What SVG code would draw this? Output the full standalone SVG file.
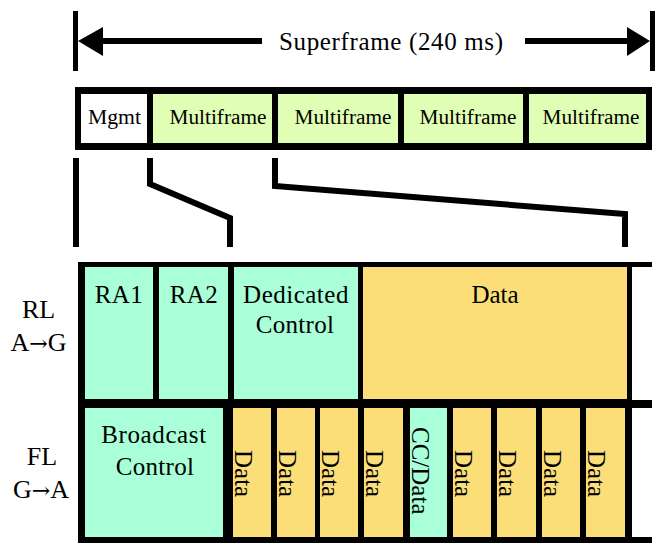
<svg xmlns="http://www.w3.org/2000/svg" width="655" height="544" viewBox="0 0 655 544">
  <style>
    text { font-family: "Liberation Serif", "Times New Roman", serif; fill: #000; }
    .lbl { font-size: 26px; text-anchor: middle; }
    .arr { font-family: "DejaVu Serif", serif; font-size: 22px; }
    .cell { font-size: 25px; text-anchor: middle; }
    .mf { font-size: 20px; text-anchor: middle; }
    .vt { font-size: 25px; }
    .teal { fill: #A8FFD8; }
    .yel { fill: #FBDE78; }
    .grn { fill: #E1FFB4; }
    .wht { fill: #FFFFFF; }
    .blk { fill: #000000; }
    .ln { fill: none; stroke: #000; stroke-width: 6; stroke-linejoin: miter; }
  </style>

  <!-- Superframe dimension -->
  <g id="superframe-dimension">
    <rect class="blk" x="73" y="11" width="5" height="60"/>
    <rect class="blk" x="650" y="11" width="5" height="60"/>
    <line x1="100" y1="41" x2="262" y2="41" stroke="#000" stroke-width="6"/>
    <line x1="525" y1="41" x2="630" y2="41" stroke="#000" stroke-width="6"/>
    <polygon class="blk" points="78,41 103,27 103,56"/>
    <polygon class="blk" points="650,41 627,27 627,56"/>
    <text x="391" y="50" font-size="25" text-anchor="middle" textLength="224" lengthAdjust="spacing">Superframe (240 ms)</text>
  </g>

  <!-- Frame row -->
  <g id="frame-row">
    <rect class="blk" x="75" y="87" width="577" height="63"/>
  </g>
  <g id="mgmt">
    <rect class="wht" x="81" y="94" width="66" height="49"/>
    <text x="114.5" y="124" font-size="21" text-anchor="middle" textLength="53" lengthAdjust="spacingAndGlyphs">Mgmt</text>
  </g>
  <g id="multiframe-1">
    <rect class="grn" x="153" y="94" width="119" height="49"/>
    <text class="mf" x="218" y="124" textLength="97" lengthAdjust="spacingAndGlyphs">Multiframe</text>
  </g>
  <g id="multiframe-2">
    <rect class="grn" x="278" y="94" width="120" height="49"/>
    <text class="mf" x="343" y="124" textLength="97" lengthAdjust="spacingAndGlyphs">Multiframe</text>
  </g>
  <g id="multiframe-3">
    <rect class="grn" x="404" y="94" width="119" height="49"/>
    <text class="mf" x="468" y="124" textLength="97" lengthAdjust="spacingAndGlyphs">Multiframe</text>
  </g>
  <g id="multiframe-4">
    <rect class="grn" x="529" y="94" width="117" height="49"/>
    <text class="mf" x="591" y="124" textLength="97" lengthAdjust="spacingAndGlyphs">Multiframe</text>
  </g>

  <!-- Expansion connectors -->
  <g id="connectors">
    <path class="ln" d="M76,158 V247"/>
    <path class="ln" d="M150,158 V184 L230,218 V247"/>
    <path class="ln" d="M275,158 V186 L625,214 V247"/>
  </g>

  <!-- Link table background -->
  <g id="link-grid">
    <rect class="blk" x="78" y="262" width="554" height="281"/>
    <rect class="blk" x="632" y="262" width="20" height="5"/>
    <rect class="blk" x="632" y="400" width="20" height="8"/>
    <rect class="blk" x="632" y="537" width="20" height="6"/>
  </g>

  <!-- Row labels -->
  <g id="label-rl">
    <text class="lbl" x="38.5" y="318">RL</text>
    <text class="lbl" x="38.5" y="351">A<tspan class="arr">→</tspan>G</text>
  </g>
  <g id="label-fl">
    <text class="lbl" x="42" y="465">FL</text>
    <text class="lbl" x="41" y="498">G<tspan class="arr">→</tspan>A</text>
  </g>

  <!-- RL row -->
  <g id="rl-ra1">
    <rect class="teal" x="85" y="267" width="68" height="132"/>
    <text class="cell" x="119" y="303" letter-spacing="0.5">RA1</text>
  </g>
  <g id="rl-ra2">
    <rect class="teal" x="159" y="267" width="69" height="132"/>
    <text class="cell" x="194" y="303" letter-spacing="0.5">RA2</text>
  </g>
  <g id="rl-dedicated-control">
    <rect class="teal" x="234" y="267" width="124" height="132"/>
    <text class="cell" x="296" y="303" letter-spacing="0.5">Dedicated</text>
    <text class="cell" x="295" y="333" letter-spacing="0.3">Control</text>
  </g>
  <g id="rl-data">
    <rect class="yel" x="363" y="267" width="264" height="132"/>
    <text class="cell" x="495" y="303">Data</text>
  </g>

  <!-- FL row -->
  <g id="fl-broadcast-control">
    <rect class="teal" x="85" y="408" width="138" height="129"/>
    <text class="cell" x="154" y="443" letter-spacing="0.6">Broadcast</text>
    <text class="cell" x="155" y="475" letter-spacing="0.3">Control</text>
  </g>
  <g id="fl-data-1">
    <rect class="yel" x="233" y="408" width="38" height="129"/>
    <text class="vt" transform="translate(235,450) rotate(90)">Data</text>
  </g>
  <g id="fl-data-2">
    <rect class="yel" x="277" y="408" width="38" height="129"/>
    <text class="vt" transform="translate(279,450) rotate(90)">Data</text>
  </g>
  <g id="fl-data-3">
    <rect class="yel" x="320" y="408" width="38" height="129"/>
    <text class="vt" transform="translate(322,450) rotate(90)">Data</text>
  </g>
  <g id="fl-data-4">
    <rect class="yel" x="364" y="408" width="39" height="129"/>
    <text class="vt" transform="translate(366,450) rotate(90)">Data</text>
  </g>
  <g id="fl-cc-data">
    <rect class="teal" x="410" y="408" width="37" height="129"/>
    <text class="vt" transform="translate(412,427) rotate(90)">CC/Data</text>
  </g>
  <g id="fl-data-5">
    <rect class="yel" x="453" y="408" width="38" height="129"/>
    <text class="vt" transform="translate(455,450) rotate(90)">Data</text>
  </g>
  <g id="fl-data-6">
    <rect class="yel" x="497" y="408" width="39" height="129"/>
    <text class="vt" transform="translate(499,450) rotate(90)">Data</text>
  </g>
  <g id="fl-data-7">
    <rect class="yel" x="542" y="408" width="38" height="129"/>
    <text class="vt" transform="translate(544,450) rotate(90)">Data</text>
  </g>
  <g id="fl-data-8">
    <rect class="yel" x="586" y="408" width="39" height="129"/>
    <text class="vt" transform="translate(588,450) rotate(90)">Data</text>
  </g>
</svg>
